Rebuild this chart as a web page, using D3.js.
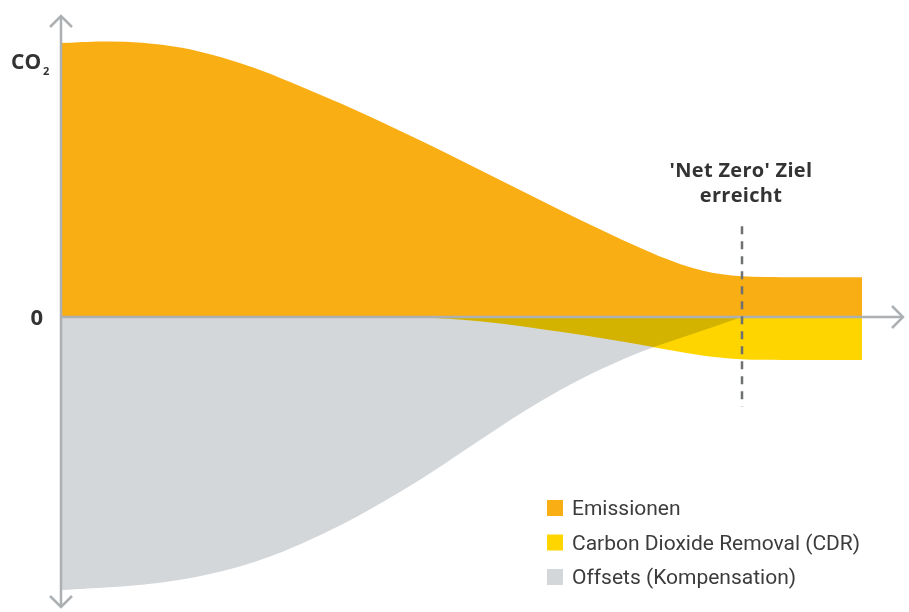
<!DOCTYPE html>
<html>
<head>
<meta charset="utf-8">
<script src="https://cdn.jsdelivr.net/npm/d3@7"></script>
<style>
  html, body { margin: 0; padding: 0; background: #fff; }
  svg { display: block; }
  text { font-family: Roboto, "Noto Sans", sans-serif; }
</style>
</head>
<body>
<svg id="chart" width="909" height="612"></svg>
<script>
// ---- data (time index 0..100, CO2 in relative units) ----
const timeSteps = [0,5,10,15,20,25,30,35,40,45,50,55,60,65,70,75,80,85,90,95,100];
const emissions = [99.6,100.4,100,98.2,94.5,89.8,83.6,77.5,70.9,64,56.7,49.5,42.2,34.9,28,21.5,16.4,14.5,14.5,14.5,14.5];
const cdrSteps  = [45,50,55,60,65,70,75,80,85,90,95,100];
const cdr       = [0,-0.9,-2.4,-4.4,-6.5,-8.9,-11.5,-14.2,-15.6,-15.6,-15.6,-15.6];
const offsetSteps = [0,5,10,15,20,25,30,35,40,45,50,55,60,65,70,75,80,85];
const offsets   = [-99.3,-98.5,-97.5,-95.6,-92.7,-88.4,-82.5,-75.6,-67.6,-58.9,-49.1,-39.3,-30.2,-22.2,-15.3,-9.8,-5.1,0];
const netZeroT  = 85;
const legendLabels = ["Emissionen", "Carbon Dioxide Removal (CDR)", "Offsets (Kompensation)"];
const legendColors = ["#F9AE14", "#FFD500", "#D4D7DA"];
const yLabel = "CO";
const zeroLabel = "0";
const netZeroLines = ["'Net Zero' Ziel", "erreicht"];

const svg = d3.select("#chart");
const x = d3.scaleLinear().domain([0, 100]).range([62, 862]);
const y = d3.scaleLinear().domain([-100, 100]).range([592, 42]);

const areaOf = (ts, vs) => d3.area()
  .x((d, i) => x(ts[i]))
  .y0(y(0))
  .y1(d => y(d))
  .curve(d3.curveBasis)(vs);

// offsets (grey)
svg.append("path").attr("d", areaOf(offsetSteps, offsets)).attr("fill", legendColors[2]);
// CDR (yellow) multiplied over grey
svg.append("path").attr("d", areaOf(cdrSteps, cdr)).attr("fill", legendColors[1])
  .style("mix-blend-mode", "multiply");
// emissions (orange)
svg.append("path").attr("d", areaOf(timeSteps, emissions)).attr("fill", legendColors[0]);

// axes
const axisColor = "#ADB0B3";
const y0 = y(0);
const ax = svg.append("g").attr("stroke", axisColor).attr("stroke-width", 2.5).attr("fill", "none")
  .attr("stroke-linecap", "butt");
ax.append("line").attr("x1", 61).attr("x2", 61).attr("y1", 16).attr("y2", 607);
ax.append("line").attr("x1", 60).attr("x2", 902).attr("y1", y0).attr("y2", y0);
// arrowheads
ax.append("path").attr("d", `M50,27 L61,16 L72,27`);
ax.append("path").attr("d", `M50,596 L61,607 L72,596`);
ax.append("path").attr("d", `M892,${y0-11} L903,${y0} L892,${y0+11}`);

// net zero dashed line
svg.append("line")
  .attr("x1", x(netZeroT)).attr("x2", x(netZeroT))
  .attr("y1", y(33)).attr("y2", y(-32.5))
  .attr("stroke", "#6E7072").attr("stroke-width", 2.5)
  .attr("stroke-dasharray", "8,7");

// labels
const co = svg.append("text").attr("x", 11).attr("y", 69)
  .attr("font-size", 21).attr("font-weight", 700).attr("fill", "#333")
  .style("font-family", "'Open Sans', Roboto, sans-serif");
co.append("tspan").text(yLabel);
co.append("tspan").attr("font-size", 11).attr("dy", 6).attr("dx", 2).text("2");

svg.append("text").attr("x", 43).attr("y", y0 + 8).attr("text-anchor", "end")
  .attr("font-size", 22).attr("font-weight", 700).attr("fill", "#333")
  .style("font-family", "'Open Sans', Roboto, sans-serif").text(zeroLabel);

svg.selectAll("text.nz").data(netZeroLines).enter().append("text")
  .attr("class", "nz")
  .attr("x", x(netZeroT) - 1).attr("y", (d, i) => 177 + i * 25)
  .attr("text-anchor", "middle").attr("font-size", 20).attr("font-weight", 700)
  .attr("letter-spacing", 0.3)
  .attr("fill", "#333").style("font-family", "'Open Sans', Roboto, sans-serif")
  .text(d => d);

// legend
const lg = svg.append("g").attr("transform", "translate(547,500)");
const item = lg.selectAll("g").data(legendLabels).enter().append("g")
  .attr("transform", (d, i) => `translate(0,${i * 34.5})`);
item.append("rect").attr("width", 16).attr("height", 16).attr("fill", (d, i) => legendColors[i]);
item.append("text").attr("x", 25).attr("y", 15).attr("font-size", 21)
  .attr("fill", "#3C3C3C").text(d => d);
</script>
</body>
</html>
